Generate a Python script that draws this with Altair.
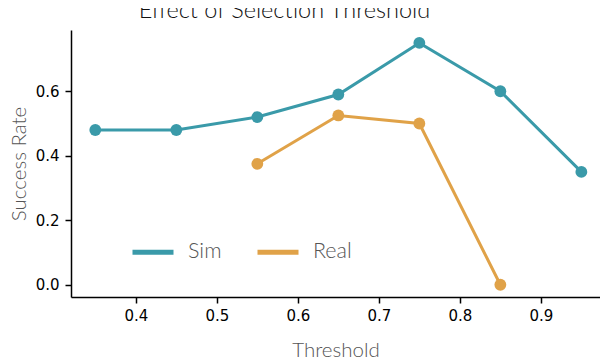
import altair as alt
import pandas as pd

thresholds_sim = [0.35, 0.45, 0.55, 0.65, 0.75, 0.85, 0.95]
success_sim = [0.48, 0.48, 0.52, 0.59, 0.75, 0.60, 0.35]
thresholds_real = [0.55, 0.65, 0.75, 0.85]
success_real = [0.375, 0.525, 0.50, 0.0]

df = pd.concat([
    pd.DataFrame({"Threshold": thresholds_sim, "Success Rate": success_sim, "Series": "Sim"}),
    pd.DataFrame({"Threshold": thresholds_real, "Success Rate": success_real, "Series": "Real"}),
], ignore_index=True)

colors = alt.Scale(domain=["Sim", "Real"], range=["#3a9aa9", "#e0a248"])

x = alt.X("Threshold:Q", scale=alt.Scale(domain=[0.32, 0.973], nice=False, zero=False),
          axis=alt.Axis(values=[0.4, 0.5, 0.6, 0.7, 0.8, 0.9], format=".1f", title="Threshold",
                        labelPadding=5, titlePadding=17))
y = alt.Y("Success Rate:Q", scale=alt.Scale(domain=[-0.038, 0.79], nice=False, zero=False),
          axis=alt.Axis(values=[0.0, 0.2, 0.4, 0.6], format=".1f", title="Success Rate",
                        labelPadding=6, titlePadding=6))

base = alt.Chart(df)
lines = base.mark_line(strokeWidth=3).encode(
    x=x, y=y,
    color=alt.Color("Series:N", scale=colors, sort=["Sim", "Real"],
                    legend=alt.Legend(title=None, orient="none", legendX=59, legendY=199,
                                      direction="horizontal", symbolType="stroke",
                                      symbolSize=1681, symbolStrokeWidth=5,
                                      labelFont="Lato", labelFontWeight=300, labelFontSize=21.5,
                                      labelColor="#555555", labelOffset=12, columnPadding=25)),
    detail="Series:N",
)
points = base.mark_point(filled=True, size=140, opacity=1).encode(
    x=x, y=y,
    color=alt.Color("Series:N", scale=colors, legend=None),
)

chart = alt.layer(lines, points).properties(
    width=529, height=267,
    background="white",
    autosize=alt.AutoSizeParams(type="none"),
    padding={"left": 63, "top": 22, "right": 0, "bottom": 62},
    title=alt.Title("Effect of Selection Threshold", font="Lato", fontWeight=300, fontSize=23.5,
                    color="#111111", anchor="middle", dx=-51, offset=8),
).configure_view(stroke=None).configure_axis(
    grid=False, domainColor="black", domainWidth=1.5, tickColor="black", tickWidth=1.5,
    tickSize=6, labelColor="black", labelFont="DejaVu Sans", labelFontSize=15,
    titleFont="Lato", titleFontWeight=300, titleFontSize=20.5, titleColor="#555555",
)

chart.save("out.html", embed_options={"renderer": "svg", "actions": False})
